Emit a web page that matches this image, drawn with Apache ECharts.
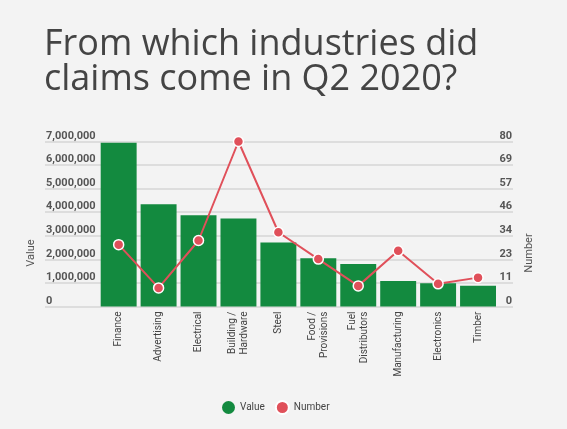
<!DOCTYPE html>
<html>
<head>
<meta charset="utf-8">
<script src="https://cdn.jsdelivr.net/npm/echarts@6/dist/echarts.min.js"></script>
<style>
html, body { margin: 0; padding: 0; background: #f3f3f3; }
#chart { width: 567px; height: 429px; }
</style>
</head>
<body>
<div id="chart"></div>
<script>
// 行业
var categories = ['Finance', 'Advertising', 'Electrical', 'Building /\nHardware', 'Steel',
	'Food /\nProvisions', 'Fuel\nDistributors', 'Manufacturing', 'Electronics', 'Timber'];
// 金额
var values = [6950000, 4340000, 3870000, 3730000, 2710000, 2050000, 1800000, 1080000, 990000, 880000];
// 数量
var numbers = [30, 9, 32, 80, 36, 23, 10, 27, 11, 14];

var valueMax = 7000000;
var numberMax = 80;

var chart = echarts.init(document.getElementById('chart'));
var gridTop = 141.5, gridBottom = 122.5;
var option = {
	backgroundColor : '#f3f3f3',
	textStyle : { fontFamily : 'Roboto, sans-serif' },
	title : {
		text : 'From which industries did\nclaims come in Q2 2020?',
		left : 39,
		top : 22,
		textStyle : {
			fontFamily : '"Open Sans", sans-serif',
			fontWeight : 'normal',
			fontSize : 36,
			lineHeight : 35,
			color : '#444444'
		}
	},
	legend : {
		data : [ 'Value', 'Number' ],
		icon : 'circle',
		itemWidth : 13,
		itemHeight : 13,
		itemGap : 10,
		left : 217,
		top : 395,
		textStyle : { color : '#444', fontSize : 10 }
	},
	// 坐标轴名称
	graphic : [ {
		type : 'text',
		x : 31,
		y : 253,
		rotation : Math.PI / 2,
		style : { text : 'Value', fill : '#555', font : '11px Roboto', align : 'center', verticalAlign : 'middle' }
	}, {
		type : 'text',
		x : 529,
		y : 253,
		rotation : Math.PI / 2,
		style : { text : 'Number', fill : '#555', font : '11px Roboto', align : 'center', verticalAlign : 'middle' }
	} ],
	grid : [
		{ left : 45, right : 54, top : gridTop, bottom : gridBottom },// 网格线
		{ left : 98.7, right : 69, top : gridTop, bottom : gridBottom }// 柱子
	],
	xAxis : [
		{ gridIndex : 0, type : 'value', show : false },
		{
			gridIndex : 1,
			type : 'category',
			data : categories,
			axisLine : { show : false },
			axisTick : { show : false },
			axisLabel : {
				rotate : 90,
				interval : 0,
				margin : 5,
				fontSize : 10,
				lineHeight : 12,
				color : '#444'
			}
		}
	],
	yAxis : [
		{
			gridIndex : 0,
			type : 'value',
			min : 0,
			max : valueMax,
			interval : 1000000,
			axisLine : { show : false },
			axisTick : { show : false },
			axisLabel : {
				inside : true,
				margin : 1,
				verticalAlign : 'bottom',
				fontSize : 11,
				fontWeight : 'bold',
				color : '#555',
				formatter : function(v) { return v.toLocaleString('en-US'); }
			},
			splitLine : { lineStyle : { color : '#d6d6d6', width : 1.5 } }
		},
		{
			gridIndex : 0,
			type : 'value',
			position : 'right',
			min : 0,
			max : numberMax,
			interval : numberMax / 7,
			axisLine : { show : false },
			axisTick : { show : false },
			axisLabel : {
				inside : true,
				margin : 1,
				verticalAlign : 'bottom',
				fontSize : 11,
				fontWeight : 'bold',
				color : '#555',
				formatter : function(v) { return Math.round(v); }
			},
			splitLine : { show : false }
		},
		{ gridIndex : 1, type : 'value', min : 0, max : valueMax, show : false, splitLine : { show : false } },
		{ gridIndex : 1, type : 'value', min : 0, max : numberMax, show : false, splitLine : { show : false } }
	],
	series : [ {
		name : 'Value',
		type : 'bar',
		xAxisIndex : 1,
		yAxisIndex : 2,
		barCategoryGap : '10%',
		itemStyle : { color : '#138a3f' },
		data : values
	}, {
		name : 'Number',
		type : 'line',
		xAxisIndex : 1,
		yAxisIndex : 3,
		symbol : 'circle',
		symbolSize : 10,
		itemStyle : { color : '#e0505a', borderColor : '#ffffff', borderWidth : 1.5 },
		lineStyle : { color : '#e0505a', width : 2 },
		data : numbers
	} ]
};
chart.setOption(option);
</script>
</body>
</html>
